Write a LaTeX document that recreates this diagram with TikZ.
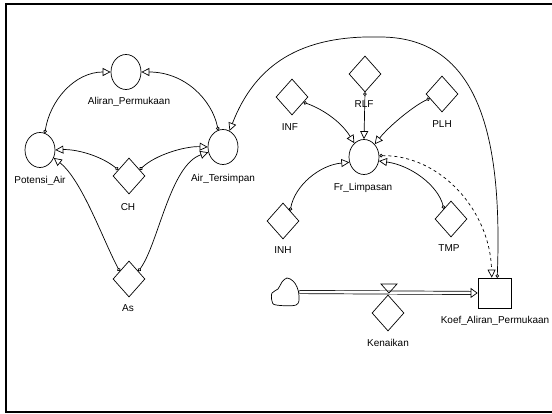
\documentclass[tikz,border=0pt]{standalone}
\usepackage{fontspec}
\setmainfont{Liberation Sans}
\usetikzlibrary{shapes.geometric,arrows.meta}

\begin{document}
\begin{tikzpicture}[x=1pt,y=-1pt,line width=0.7pt,
  every node/.style={font=\fontsize{10}{12}\selectfont},
  conv/.style={draw,ellipse,minimum width=30pt,minimum height=35pt,inner sep=0pt},
  aux/.style={draw,diamond,minimum width=32pt,minimum height=36pt,inner sep=0pt},
  stock/.style={draw,rectangle,minimum width=33pt,minimum height=30pt,inner sep=0pt},
  lbl/.style={inner sep=1pt,text height=7pt,text depth=0pt},
  link/.style={{Circle[open,length=3.5pt,width=3.5pt]}-{Triangle[open,length=8pt,width=8pt]}},
  flow/.style={double,double distance=2.5pt,-{Triangle[open,length=7pt,width=10pt]}}]
  \useasboundingbox (0,0) rectangle (552,414);
  \draw[line width=2pt] (552,4) -| (6,412) -- (552,412);

  %% left loop
  \node[conv] (ap) at (126,72) {};
  \node[lbl] (ap-t) at (129,101) {Aliran\_Permukaan};
  \node[conv] (pa) at (40,150) {};
  \node[lbl] (pa-t) at (40,180) {Potensi\_Air};
  \node[conv] (at) at (223,147) {};
  \node[lbl] (at-t) at (223,178) {Air\_Tersimpan};
  \node[aux] (ch) at (129,176) {};
  \node[lbl] (ch-t) at (128,207) {CH};
  \node[aux] (as) at (129,279) {};
  \node[lbl] (as-t) at (128,308) {As};

  \draw[link] (pa.74) .. controls (50,100) and (75,72) .. (ap.west);
  \draw[link] (at.106) .. controls (212,100) and (185,72) .. (ap.east);
  \draw[link] (ch.150) .. controls (100,155) and (75,149) .. (pa.east);
  \draw[link] (ch.30) .. controls (155,155) and (185,146) .. (at.west);
  \draw[link] (as.140) .. controls (103,240) and (82,180) .. (pa.-30);
  \draw[link] (as.40) .. controls (158,245) and (170,165) .. (at.200);

  %% right part
  \node[conv] (fr) at (364,157) {};
  \node[lbl] (fr-t) at (363,187) {Fr\_Limpasan};
  \node[aux] (inf) at (292,97) {};
  \node[lbl] (inf-t) at (290,127) {INF};
  \node[aux] (rlf) at (365,74) {};
  \node[lbl] (rlf-t) at (364,104) {RLF};
  \node[aux] (plh) at (442,94) {};
  \node[lbl] (plh-t) at (442,124) {PLH};
  \node[aux] (inh) at (283,221) {};
  \node[lbl] (inh-t) at (283,250) {INH};
  \node[aux] (tmp) at (451,219) {};
  \node[lbl] (tmp-t) at (449,248) {TMP};
  \node[stock] (koef) at (494.5,293) {};
  \node[lbl] (koef-t) at (495,320) {Koef\_Aliran\_Permukaan};

  \draw[link] (inf.-25) .. controls (320,108) and (340,120) .. (fr.125);
  \draw[link] (rlf.south) -- (fr.north);
  \draw[link] (plh.200) .. controls (415,105) and (390,125) .. (fr.50);
  \draw[link] (inh.55) .. controls (295,185) and (320,165) .. (fr.200);
  \draw[link] (tmp.125) .. controls (438,185) and (410,165) .. (fr.-15);
  \draw[link,dashed] (fr.5) .. controls (440,155) and (490,210) .. (koef.100);
  \draw[link] (koef.80) .. controls (502,150) and (485,37) .. (380,37)
    .. controls (300,35) and (255,65) .. (at.68);

  %% flow
  \node[minimum width=28pt,minimum height=27pt,inner sep=0pt] (src) at (285,292) {};
  \draw plot[smooth cycle,tension=0.6] coordinates
    {(276,305) (296,305) (299,296) (297,287) (293,281) (287,278) (282,282) (278,289) (272,293) (272,301)};
  \draw[flow] (src.east) -- (koef.west);
  \coordinate (vlv) at (389,293);
  \draw (vlv) -- ++(-8,-9) -- ++(16,0) -- cycle;
  \node[aux] (ken) at (388,313) {};
  \node[lbl] (ken-t) at (388,343) {Kenaikan};
\end{tikzpicture}
\end{document}
